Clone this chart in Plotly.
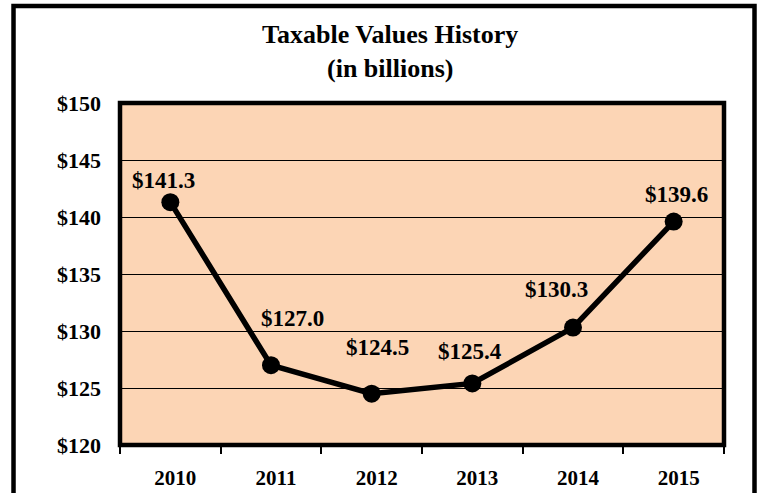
import plotly.graph_objects as go

years = ["2010", "2011", "2012", "2013", "2014", "2015"]
values = [141.3, 127.0, 124.5, 125.4, 130.3, 139.6]
y_ticks = [120, 125, 130, 135, 140, 145, 150]
y_tick_labels = ["$%d" % v for v in y_ticks]
title_lines = ["Taxable Values History", "(in billions)"]

# label offsets (style only): pixels
label_dx = [-7, 21, 6, -2, -17, 3]
label_dy = [22, 47, 46, 32, 38, 27]

FONT = "Liberation Serif"

fig = go.Figure()
fig.add_trace(go.Scatter(
    x=years, y=values, mode="lines+markers",
    line=dict(color="black", width=5.5),
    marker=dict(color="black", size=18),
    hoverinfo="skip", showlegend=False,
))

for i, v in enumerate(values):
    fig.add_annotation(
        x=i, y=v, xref="x", yref="y", text="<b>$%.1f</b>" % v, showarrow=False,
        xanchor="center", yanchor="middle",
        xshift=label_dx[i], yshift=label_dy[i],
        font=dict(family=FONT, size=23, color="black"),
    )

for line, yy in zip(title_lines, [1.2, 1.102]):
    fig.add_annotation(
        x=0.447, y=yy, xref="paper", yref="paper", text="<b>%s</b>" % line,
        showarrow=False, xanchor="center", yanchor="middle",
        font=dict(family=FONT, size=26, color="black"),
    )

# plot area border
fig.add_shape(type="rect", xref="paper", yref="paper", x0=0, y0=0, x1=1, y1=1,
              line=dict(color="black", width=4.5), fillcolor="rgba(0,0,0,0)", layer="above")
# outer chart border
fig.add_shape(type="rect", xref="paper", yref="paper",
              x0=-0.1763, y0=-0.2, x1=1.0505, y1=1.2836,
              line=dict(color="black", width=4.5), fillcolor="rgba(0,0,0,0)", layer="above")

fig.update_layout(
    width=759, height=493,
    margin=dict(l=120, r=35, t=103, b=48, autoexpand=False),
    paper_bgcolor="white",
    plot_bgcolor="#FCD5B5",
    xaxis=dict(
        type="category", range=[-0.5, 5.5], automargin=False,
        tickson="boundaries", ticks="outside", ticklen=8, tickwidth=1.5,
        tickcolor="black", showgrid=False, zeroline=False, showline=False,
        tickfont=dict(family=FONT, size=21, color="black"),
        tickprefix="<b>", ticksuffix="</b>",
        ticklabelstandoff=18, ticklabelshift=5,
    ),
    yaxis=dict(
        range=[120, 150], tickvals=y_ticks, automargin=False,
        ticktext=["<b>%s</b>" % t for t in y_tick_labels],
        showgrid=True, gridcolor="black", gridwidth=1.3,
        zeroline=False, showline=False, ticks="",
        tickfont=dict(family=FONT, size=22, color="black"),
        ticklabelstandoff=18,
    ),
)

fig.write_html("out.html", config={"displayModeBar": False},
               post_script="document.body.style.margin='0';")
